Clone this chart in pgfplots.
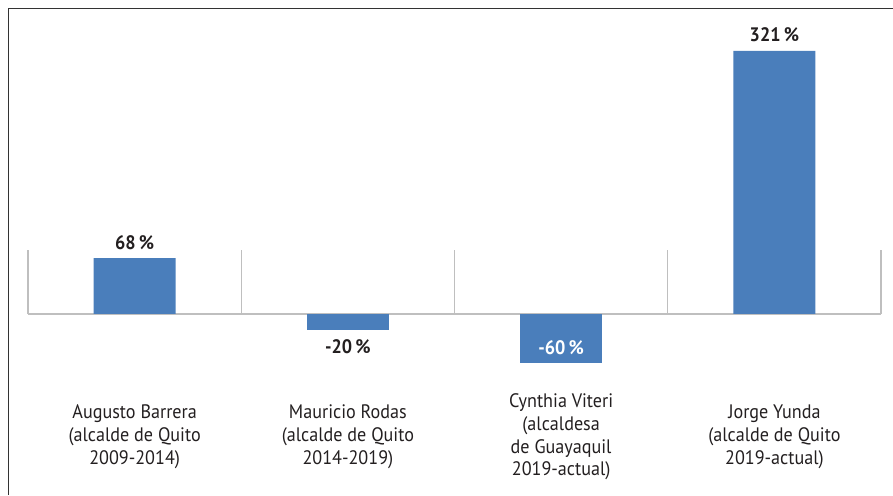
\documentclass[border=0pt]{standalone}
\usepackage{pgfplots}
\pgfplotsset{compat=1.18}
\usepackage{fontspec}
\setmainfont[FakeStretch=0.93]{PT Sans}
\definecolor{barblue}{HTML}{4A7EBB}
\definecolor{axgray}{HTML}{BFBFBF}
\definecolor{framegray}{HTML}{333333}
\definecolor{txt}{HTML}{231F20}
\begin{document}
\begin{tikzpicture}[x=1pt,y=1pt]
\begin{axis}[
  at={(28pt,99pt)}, anchor=south west,
  scale only axis, width=853pt, height=360.8pt,
  xmin=-0.5, xmax=3.5, ymin=-100, ymax=340,
  axis y line=none,
  axis x line=middle,
  axis line style={-, axgray, line width=1.6pt},
  ybar, bar width=82pt, bar shift=0pt,
  clip=false,
  xtick={0,1,2,3},
  xticklabels={{Augusto Barrera\\(alcalde de Quito\\2009-2014)},
               {Mauricio Rodas\\(alcalde de Quito\\2014-2019)},
               {Cynthia Viteri\\(alcaldesa\\de Guayaquil\\2019-actual)},
               {Jorge Yunda\\(alcalde de Quito\\2019-actual)}},
  major tick length=0pt,
  minor xtick={-0.5,0.5,1.5,2.5,3.5},
  minor tick length=64pt,
  tick align=center,
  minor x tick style={axgray, line width=1.4pt, yshift=32pt},
  xticklabel style={anchor=center, yshift=-123pt, align=center,
    font=\fontsize{19.5}{22.8}\selectfont, text=txt},
  nodes near coords,
  point meta=explicit symbolic,
]
\addplot[fill=barblue, draw=none,
  nodes near coords style={anchor=base, yshift=9pt, text=txt,
    font=\fontsize{19.5}{22}\selectfont\bfseries}]
  coordinates {(0,68) [68\,\%] (3,321) [321\,\%]};
\addplot[fill=barblue, draw=none,
  nodes near coords style={anchor=base, yshift=-23pt, text=txt,
    font=\fontsize{19.5}{22}\selectfont\bfseries}]
  coordinates {(1,-20) [-20\,\%]};
\addplot[fill=barblue, draw=none,
  nodes near coords style={anchor=base, yshift=9pt, text=white,
    font=\fontsize{19.5}{22}\selectfont\bfseries}]
  coordinates {(2,-60) [-60\,\%]};
\end{axis}
\draw[framegray, line width=1.8pt] (8.5pt,0pt) -- (8.5pt,486.5pt) -- (893pt,486.5pt);
\pgfresetboundingbox
\path[use as bounding box] (0pt,0pt) rectangle (893pt,495pt);
\end{tikzpicture}
\end{document}
